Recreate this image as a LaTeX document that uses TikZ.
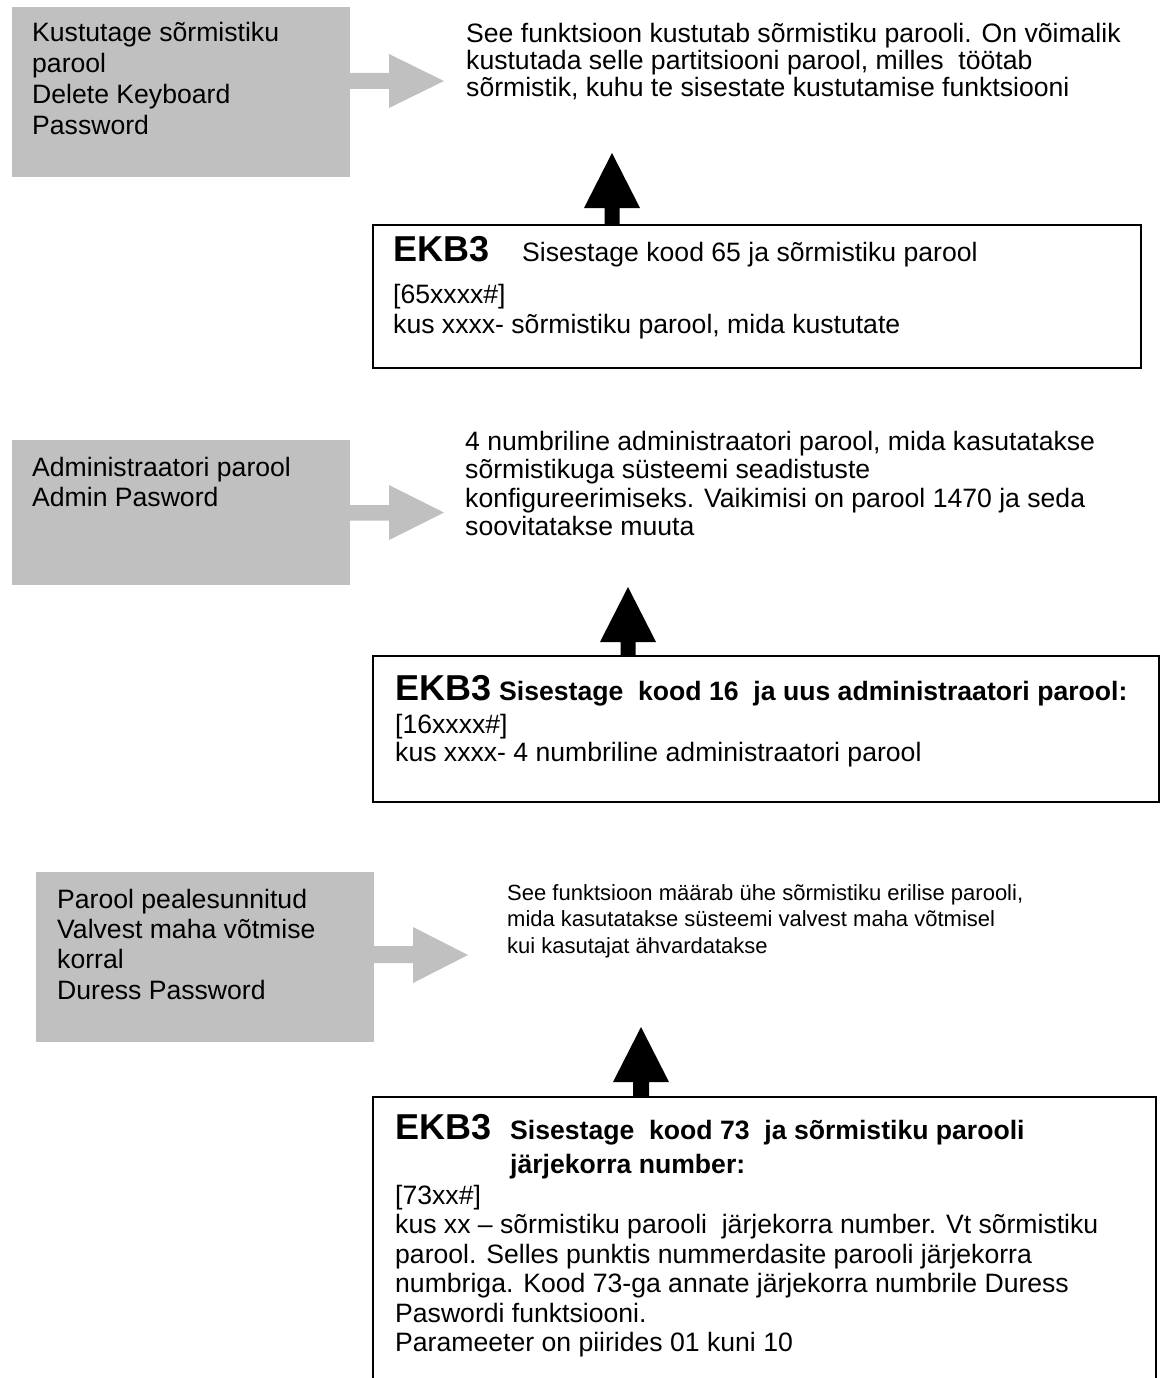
\documentclass[tikz,border=0pt]{standalone}
\usepackage{fontspec}
\setmainfont{Liberation Sans}
\definecolor{panelgray}{RGB}{192,192,192}
\begin{document}
\begin{tikzpicture}[x=1pt,y=-1pt,
  txt/.style={anchor=base west, inner sep=0pt, align=left,
              font=\fontsize{26.6}{30}\selectfont},
  small/.style={txt, font=\fontsize{22}{26.7}\selectfont},
  big/.style={anchor=base west, inner sep=0pt,
              font=\fontsize{36}{40}\selectfont\bfseries},
  boldtxt/.style={txt, font=\fontsize{26.6}{34}\selectfont\bfseries},
  frame/.style={draw=black, line width=1.3pt},
  panel/.style={fill=panelgray},
  pointer/.style={fill=panelgray},
  uparrow/.style={fill=black}]
\useasboundingbox (0,0) rectangle (1161,1378);

% ---------- grey panels ----------
\path[panel] (12,7) rectangle (350,177);
\path[panel] (12,440) rectangle (350,585);
\path[panel] (36,872) rectangle (374,1042);

% ---------- grey block arrows ----------
\path[pointer] (350,73) -- (389,73) -- (389,54) -- (444,81) -- (389,108) -- (389,89) -- (350,89) -- cycle;
\path[pointer] (350,505) -- (389,505) -- (389,485) -- (444,512.5) -- (389,540) -- (389,520.5) -- (350,520.5) -- cycle;
\path[pointer] (374,946) -- (413,946) -- (413,927) -- (468,955) -- (413,983) -- (413,963) -- (374,963) -- cycle;

% ---------- black up arrows ----------
\path[uparrow] (604.5,225) -- (604.5,208) -- (584,208) -- (612,153) -- (640,208) -- (619.5,208) -- (619.5,225) -- cycle;
\path[uparrow] (620.5,656) -- (620.5,642) -- (600,642) -- (628,587) -- (656,642) -- (635.5,642) -- (635.5,656) -- cycle;
\path[uparrow] (633,1097) -- (633,1082) -- (613,1082) -- (641,1027) -- (669,1082) -- (649,1082) -- (649,1097) -- cycle;

% ---------- framed boxes ----------
\draw[frame] (373,225) rectangle (1141,368);
\draw[frame] (373,656) rectangle (1159,802);
\draw[frame] (373,1390) -- (373,1097) -- (1156,1097) -- (1156,1390);

% (multi-line nodes are placed by the baseline of their last line)

% ---------- section 1 ----------
\node[txt, font=\fontsize{26.6}{31}\selectfont] (l1) at (32,135)
  {Kustutage sõrmistiku\\parool\\Delete Keyboard\\Password};
\node[txt, font=\fontsize{26.6}{26.6}\selectfont] (t1) at (466,96.2)
  {See funktsioon kustutab sõrmistiku parooli. On võimalik\\
   kustutada selle partitsiooni parool, milles\ \ töötab\\
   sõrmistik, kuhu te sisestate kustutamise funktsiooni};
\node[big] (e1) at (393,261) {EKB3};
\node[txt] (s1) at (522,261) {Sisestage kood 65 ja sõrmistiku parool};
\node[txt] (d1) at (393,333) {[65xxxx\#]\\kus xxxx- sõrmistiku parool, mida kustutate};

% ---------- section 2 ----------
\node[txt] (l2) at (32,506) {Administraatori parool\\Admin Pasword};
\node[txt, font=\fontsize{26.6}{28.5}\selectfont] (t2) at (465,535.5)
  {4 numbriline administraatori parool, mida kasutatakse\\
   sõrmistikuga süsteemi seadistuste\\
   konfigureerimiseks. Vaikimisi on parool 1470 ja seda\\
   soovitatakse muuta};
\node[big] (e2) at (395,700) {EKB3};
\node[boldtxt] (s2) at (499,700) {Sisestage\ \ kood 16\ \ ja uus administraatori parool:};
\node[txt, font=\fontsize{26.6}{28}\selectfont] (d2) at (395,761)
  {[16xxxx\#]\\kus xxxx- 4 numbriline administraatori parool};

% ---------- section 3 ----------
\node[txt, font=\fontsize{26.6}{30.3}\selectfont] (l3) at (57,999)
  {Parool pealesunnitud\\Valvest maha võtmise\\korral\\Duress Password};
\node[small] (t3) at (507,953.4)
  {See funktsioon määrab ühe sõrmistiku erilise parooli,\\
   mida kasutatakse süsteemi valvest maha võtmisel\\
   kui kasutajat ähvardatakse};
\node[big] (e3) at (395,1139) {EKB3};
\node[boldtxt] (s3) at (510,1173) {Sisestage\ \ kood 73\ \ ja sõrmistiku parooli\\järjekorra number:};
\node[txt, font=\fontsize{26.6}{29.5}\selectfont] (d3) at (395,1351.5)
  {[73xx\#]\\
   kus xx – sõrmistiku parooli\ \ järjekorra number. Vt sõrmistiku\\
   parool. Selles punktis nummerdasite parooli järjekorra\\
   numbriga. Kood 73-ga annate järjekorra numbrile Duress\\
   Paswordi funktsiooni.\\
   Parameeter on piirides 01 kuni 10};
\end{tikzpicture}
\end{document}
